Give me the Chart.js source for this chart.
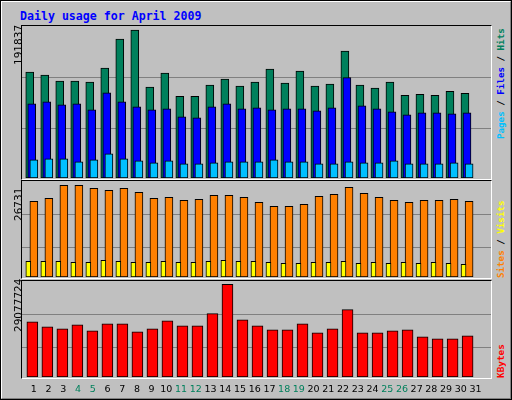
<!DOCTYPE html>
<html><head><meta charset="utf-8">
<script src="https://cdn.jsdelivr.net/npm/chart.js@4"></script>
<style>
body{margin:0;background:#c0c0c0;}
#wrap{position:relative;width:510px;height:398px;background:#c0c0c0;border:1px solid #000;overflow:hidden;}
#inner{position:absolute;left:0;top:0;width:508px;height:396px;border-top:1px solid #fff;border-left:1px solid #fff;border-right:1px solid #808080;border-bottom:1px solid #808080;}
.panel{position:absolute;border-top:1px solid #000;border-left:1px solid #000;border-right:1px solid #fff;border-bottom:1px solid #fff;}
canvas{position:absolute;}
.t{position:absolute;white-space:nowrap;}
.v{position:absolute;white-space:nowrap;transform-origin:0 0;transform:rotate(-90deg);}
.m{font-family:"DejaVu Sans Mono",monospace;font-weight:bold;}
</style></head><body>
<div id="wrap"><div id="inner"></div>
<div class="t m" style="left:19px;top:8px;font-size:11.6px;color:#0000ff">Daily usage for April 2009</div>
<div class="panel" style="left:20px;top:24px;width:469px;height:153px"></div>
<div class="panel" style="left:20px;top:179px;width:469px;height:97px"></div>
<div class="panel" style="left:20px;top:279px;width:469px;height:97px"></div>
<canvas id="c1" style="left:21px;top:25px"></canvas>
<canvas id="c2" style="left:21px;top:180px"></canvas>
<canvas id="c3" style="left:21px;top:280px"></canvas>
<div class="v" style="left:11px;top:64px;font:10.5px 'DejaVu Sans',sans-serif">191837</div>
<div class="v" style="left:11px;top:220px;font:10.5px 'DejaVu Sans',sans-serif">26731</div>
<div class="v" style="left:11px;top:331px;font:10.5px 'DejaVu Sans',sans-serif">29077724</div>
<div class="v m" style="left:494px;top:138px;font-size:9.2px"><span style="color:#00c0ff">Pages</span> / <span style="color:#0000ff">Files</span> / <span style="color:#00805c">Hits</span></div>
<div class="v m" style="left:494px;top:277px;font-size:9.2px"><span style="color:#ff8000">Sites</span> / <span style="color:#ffff00">Visits</span></div>
<div class="v m" style="left:494px;top:377px;font-size:9.4px;color:#ff0000">KBytes</div>
</div>
<script>
const days=[1,2,3,4,5,6,7,8,9,10,11,12,13,14,15,16,17,18,19,20,21,22,23,24,25,26,27,28,29,30,31];
const weekend=[4,5,11,12,18,19,25,26];
const hits=[137213,133312,125508,125508,124207,142416,180133,191837,117704,135913,106000,106000,120305,128110,119005,124207,141115,122907,138514,119005,121606,164526,120305,116404,124207,107300,108600,107300,112502,109901];
const files=[96244,98846,94944,96244,88441,110551,98846,92343,88441,89741,79337,78036,92343,96244,89741,91042,88441,89741,89741,87140,91042,130060,93643,89741,85840,81938,84539,84539,83238,84539];
const pages=[23411,24711,24711,20810,23411,31214,24711,22110,19509,22110,18208,18208,19509,20810,20810,20810,23411,20810,20810,18208,18208,20810,19509,19509,22110,18208,18208,18208,19509,18208];
const sites=[22066,22940,26731,26731,25856,25273,25856,24690,22940,23232,22357,22649,23815,23815,23232,21774,20607,20607,21190,23524,24107,26148,24398,23232,22357,21774,22357,22357,22649,22066];
const visits=[4568,4568,4568,4277,4277,4860,4568,4277,4277,4568,4277,4277,4568,4860,4568,4568,4277,3985,3985,4277,4277,4568,3985,4277,3985,4277,3985,4277,3985,3694];
const kbytes=[17340900,15754800,15120400,16389200,14486000,16706400,16706400,14168800,15120400,17658100,16072000,16072000,19878600,29077724,17975300,16072000,14803200,14803200,16706400,13851600,15120400,21147400,13851600,13851600,14486000,14803200,12582700,11948300,11948300,12899900];

function ds(vals,off,w,color){
  return {data:vals.map((v,i)=>({x:i+off,y:v})),backgroundColor:color,borderColor:'#000',borderWidth:1,barThickness:w,borderSkipped:false,grouped:false};
}
function make(id,w,h,ymax,grid,sets,labels){
  const c=document.getElementById(id);c.width=w;c.height=h;c.style.width=w+'px';c.style.height=h+'px';
  new Chart(c,{type:'bar',data:{datasets:sets},
    options:{responsive:false,animation:false,devicePixelRatio:1,
      layout:{padding:{bottom:labels?20:0}},
      plugins:{legend:{display:false},tooltip:{enabled:false}},
      scales:{x:{type:'linear',display:false,offset:false,min:0,max:31.25},y:{display:false,min:0,max:ymax}}},
    plugins:[{id:'g',beforeDatasetsDraw(ch){const ctx=ch.ctx,a=ch.chartArea,y=ch.scales.y;
        ctx.save();ctx.strokeStyle='#808080';ctx.lineWidth=1;
        grid.forEach(g=>{const p=Math.round(y.getPixelForValue(g))+0.5;ctx.beginPath();ctx.moveTo(a.left,p);ctx.lineTo(a.right,p);ctx.stroke();});
        ctx.restore();},
      afterDraw(ch){if(!labels)return;const ctx=ch.ctx,x=ch.scales.x,a=ch.chartArea;
        ctx.save();ctx.font='9.5px "DejaVu Sans",sans-serif';ctx.textAlign='center';ctx.textBaseline='middle';
        days.forEach((d,i)=>{ctx.fillStyle=weekend.includes(d)?'#00805c':'#000';
          ctx.fillText(String(d),x.getPixelForValue(i*0.981+0.79),a.bottom+13);});
        ctx.restore();}}]
  });
}
make('c1',469,152,197040,[130711,64380],[ds(pages,0.79,8,'#00c0ff'),ds(files,0.65,8,'#0000ff'),ds(hits,0.515,8,'#00805c')]);
make('c2',469,96,27984,[18277,8657],[ds(visits,0.42,5,'#ffff00'),ds(sites,0.79,8,'#ff8000')]);
make('c3',469,116,30124170,[19882000,9418000],[ds(kbytes,0.69,11,'#ff0000')],true);
</script></body></html>
